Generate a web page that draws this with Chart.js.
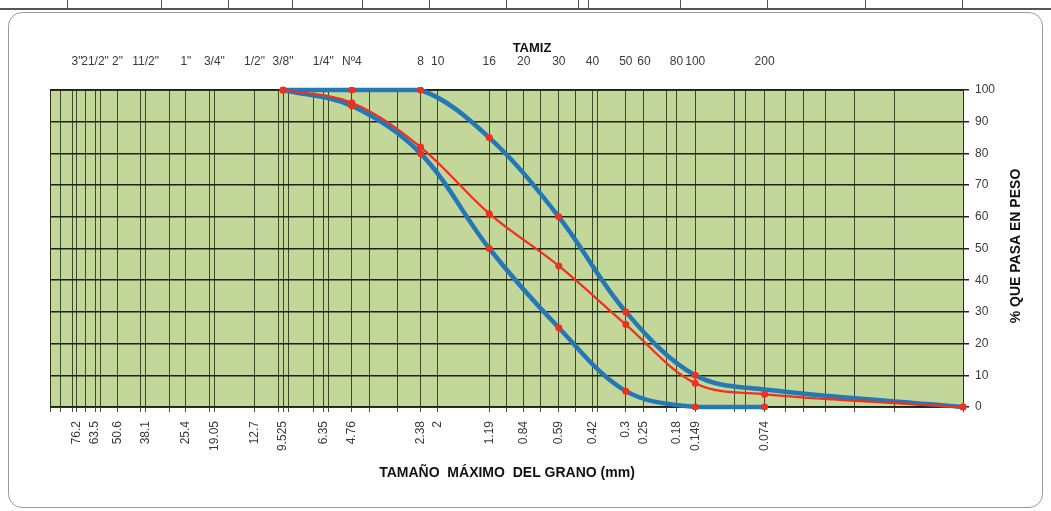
<!DOCTYPE html>
<html>
<head>
<meta charset="utf-8">
<script src="https://cdn.jsdelivr.net/npm/chart.js@4.4.1/dist/chart.umd.min.js"></script>
<style>
  body { margin: 0; background: #fff; }
  #wrap { position: relative; width: 1051px; height: 511px; overflow: hidden; }
  #frame { position: absolute; left: 8px; top: 12px; width: 1033px; height: 494px; border: 1px solid #9a9a9a; border-radius: 14px; }
  #strip { position: absolute; left: 0; top: 0; width: 1051px; height: 8px; border-bottom: 2px solid #555; }
  .tick { position: absolute; top: 0; width: 1px; height: 8px; background: #555; }
  canvas { position: absolute; left: 0; top: 0; }
</style>
</head>
<body>
<div id="wrap">
  <div id="strip"></div>
  <div id="frame"></div>
  <canvas id="granulometria" width="1051" height="511"></canvas>
</div>
<script>
// Sieve openings (mm) with their labels
const sieveSizes = [76.2, 63.5, 50.6, 38.1, 25.4, 19.05, 12.7, 9.525, 6.35, 4.76, 2.38, 2, 1.19, 0.84, 0.59, 0.42, 0.3, 0.25, 0.18, 0.149, 0.074];
const sieveNames = ['3"', '21/2"', '2"', '11/2"', '1"', '3/4"', '1/2"', '3/8"', '1/4"', 'Nº4', '8', '10', '16', '20', '30', '40', '50', '60', '80', '100', '200'];
// extra vertical lines of the log grid
const extraGrid = [100, 90, 80, 70, 60, 40, 30, 20, 10, 9, 7, 6, 4, 3, 1, 0.71, 0.5, 0.4, 0.2, 0.1, 0.09, 0.06, 0.05, 0.04, 0.03, 0.02, 0.01];
const yTicks = [0, 10, 20, 30, 40, 50, 60, 70, 80, 90, 100];

// Curve data: size (mm) vs % passing
const sizes = [9.525, 4.76, 2.38, 1.19, 0.59, 0.3, 0.149, 0.074, 0.01];
const sample = [100, 96, 82, 61, 44.5, 26, 7.5, 4, 0];
const upperLimit = [100, 100, 100, 85, 60, 30, 10, 5.5, 0];
const lowerLimit = [100, 95, 80, 50, 25, 5, 0, 0, null];

// top strip ticks (document table row above the chart)
[67, 161, 228, 292, 362, 429, 506, 578, 588, 680, 767, 865, 962].forEach(x => {
    const d = document.createElement('div');
    d.className = 'tick';
    d.style.left = x + 'px';
    document.getElementById('strip').appendChild(d);
});

const toPoints = (vals) => sizes.map((s, i) => ({ x: s, y: vals[i] }));
const allGrid = [...new Set([...sieveSizes, ...extraGrid])].sort((a, b) => b - a);

const RED = '#f0301e';
const BLUE = '#2478b5';

const plotDecor = {
    id: 'plotDecor',
    beforeDraw(chart) {
        const { ctx, chartArea: a } = chart;
        ctx.save();
        ctx.fillStyle = '#c4d79b';
        ctx.fillRect(a.left, a.top, a.width, a.height);
        ctx.restore();
    },
    afterDraw(chart) {
        const { ctx } = chart;
        ctx.save();
        ctx.fillStyle = '#111';
        ctx.textAlign = 'center';
        ctx.textBaseline = 'middle';
        ctx.font = 'bold 13px "Liberation Sans", Arial, sans-serif';
        ctx.fillText('TAMIZ', 532, 48);
        ctx.font = 'bold 14px "Liberation Sans", Arial, sans-serif';
        ctx.fillText('TAMAÑO  MÁXIMO  DEL GRANO (mm)', 507, 473);
        ctx.translate(1016, 246);
        ctx.rotate(-Math.PI / 2);
        ctx.fillText('% QUE PASA EN PESO', 0, 0);
        ctx.restore();
    },
    beforeDatasetsDraw(chart) {
        // plot frame under the curves
        const { ctx, chartArea: a } = chart;
        ctx.save();
        ctx.strokeStyle = '#2a3316';
        ctx.lineWidth = 1;
        ctx.strokeRect(a.left + 0.5, a.top + 0.5, a.width, a.height);
        ctx.restore();
    }
};

const labelFont = { family: '"Liberation Sans", Arial, sans-serif', size: 12 };

const granChart = new Chart(document.getElementById('granulometria'), {
    type: 'line',
    data: {
        datasets: [{
            label: 'Muestra',
            data: toPoints(sample),
            borderColor: RED,
            borderWidth: 2.2,
            pointRadius: 3.5,
            pointBorderWidth: 0,
            pointBackgroundColor: RED,
            clip: false,
            tension: 0.35
        }, {
            label: 'Límite superior',
            data: toPoints(upperLimit),
            borderColor: BLUE,
            borderWidth: 4.5,
            pointRadius: sizes.map((s, i) => i === 7 ? 0 : 3.5),
            pointBorderWidth: 0,
            pointBackgroundColor: RED,
            clip: 3,
            tension: 0.35
        }, {
            label: 'Límite inferior',
            data: toPoints(lowerLimit),
            borderColor: BLUE,
            borderWidth: 4.5,
            pointRadius: 3.5,
            pointBorderWidth: 0,
            pointBackgroundColor: RED,
            clip: 3,
            tension: 0.35
        }]
    },
    options: {
        responsive: false,
        animation: false,
        layout: { padding: { left: 50, right: 0, top: 0, bottom: 0 } },
        plugins: {
            legend: { display: false },
            tooltip: { enabled: false }
        },
        scales: {
            x: {
                type: 'logarithmic',
                position: 'bottom',
                min: 0.01,
                max: 100,
                reverse: true,
                afterBuildTicks: (scale) => { scale.ticks = allGrid.map(v => ({ value: v })); },
                afterFit: (scale) => { scale.height = 104; },
                grid: {
                    color: 'rgba(28, 38, 10, 0.8)',
                    lineWidth: 1,
                    tickLength: 5
                },
                border: { display: false },
                ticks: {
                    autoSkip: false,
                    minRotation: 90,
                    maxRotation: 90,
                    padding: 9,
                    color: '#3a3a3a',
                    font: labelFont,
                    callback: (value) => sieveSizes.includes(value) ? String(value) : ''
                }
            },
            x2: {
                type: 'logarithmic',
                position: 'top',
                min: 0.01,
                max: 100,
                reverse: true,
                afterBuildTicks: (scale) => { scale.ticks = sieveSizes.map(v => ({ value: v })); },
                afterFit: (scale) => { scale.height = 90; },
                grid: { display: false },
                border: { display: false },
                ticks: {
                    autoSkip: false,
                    maxRotation: 0,
                    minRotation: 0,
                    padding: 13,
                    color: '#3a3a3a',
                    font: labelFont,
                    callback: (value) => sieveNames[sieveSizes.indexOf(value)]
                }
            },
            y: {
                type: 'linear',
                position: 'right',
                min: 0,
                max: 100,
                afterBuildTicks: (scale) => { scale.ticks = yTicks.map(v => ({ value: v })); },
                afterFit: (scale) => { scale.width = 88; },
                grid: {
                    color: '#1c2410',
                    lineWidth: 1.5,
                    tickLength: 6
                },
                border: { display: false },
                ticks: {
                    padding: 6,
                    color: '#3a3a3a',
                    font: labelFont
                }
            }
        }
    },
    plugins: [plotDecor]
});
</script>
</body>
</html>
